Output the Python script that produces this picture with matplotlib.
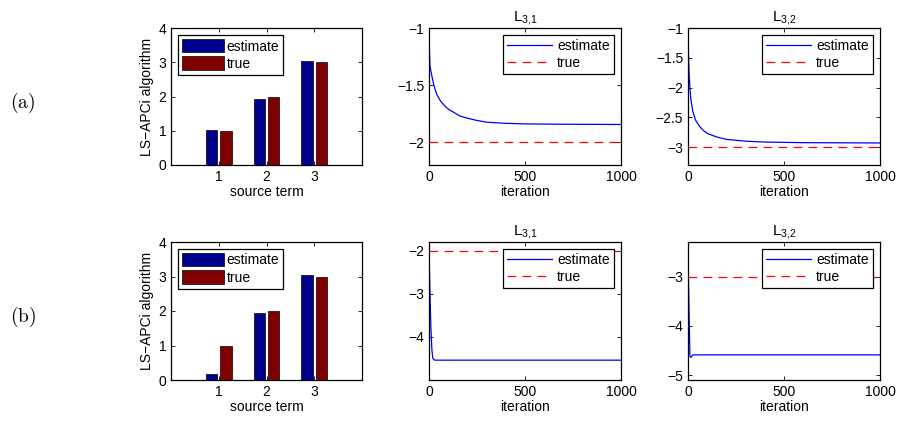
import numpy as np
import matplotlib
matplotlib.use("Agg")
import matplotlib.pyplot as plt

plt.rcParams['font.family'] = ['Liberation Sans', 'DejaVu Sans']
plt.rcParams['font.size'] = 10
plt.rcParams['mathtext.fontset'] = 'custom'
plt.rcParams['mathtext.rm'] = 'Liberation Sans'
plt.rcParams['mathtext.it'] = 'Liberation Sans:italic'

# bar data (source terms)
terms = [1, 2, 3]
est_a = [1.02, 1.93, 3.03]
true_a = [1.0, 2.0, 3.0]
est_b = [0.18, 1.93, 3.03]
true_b = [1.0, 2.0, 3.0]

# row (a) estimates vs iteration
it_a31 = [0, 5, 8, 15, 25, 40, 60, 80, 100, 130, 160, 200, 250, 300, 400, 500, 700, 1000]
val_a31 = [-1.10, -1.33, -1.36, -1.42, -1.50, -1.58, -1.64, -1.68, -1.71, -1.74, -1.77,
           -1.79, -1.81, -1.825, -1.835, -1.84, -1.843, -1.845]
true_a31 = -2.0

it_a32 = [0, 3, 6, 10, 15, 25, 40, 60, 80, 100, 150, 200, 300, 400, 600, 1000]
val_a32 = [-1.10, -1.5, -1.8, -2.0, -2.2, -2.4, -2.55, -2.65, -2.72, -2.77, -2.83,
           -2.87, -2.90, -2.915, -2.925, -2.93]
true_a32 = -3.0

# row (b)
it_b31 = [0, 5, 10, 15, 20, 30, 1000]
val_b31 = [-2.0, -3.0, -3.8, -4.3, -4.5, -4.54, -4.54]
true_b31 = -2.0

it_b32 = [0, 5, 10, 15, 25, 1000]
val_b32 = [-2.55, -3.6, -4.62, -4.64, -4.59, -4.59]
true_b32 = -3.0

blue_bar = '#00008f'
red_bar = '#800000'

fig = plt.figure(figsize=(8.98, 4.21), dpi=100)

W, H = 898.0, 421.0
def add_ax(x0, x1, y0, y1):
    return fig.add_axes([x0 / W, 1 - y1 / H, (x1 - x0) / W, (y1 - y0) / H])

def style(ax):
    ax.tick_params(direction='in', top=True, right=True, length=3, width=0.6, labelsize=10)
    for s in ax.spines.values():
        s.set_linewidth(0.9)

rows = [
    (28, 165, est_a, true_a, [(it_a31, val_a31, true_a31, (-2.2, -1), [-2, -1.5, -1], ['−2', '−1.5', '−1'], r'L$_{3{,}1}$'),
                              (it_a32, val_a32, true_a32, (-3.3, -1), [-3, -2.5, -2, -1.5, -1],
                               ['−3', '−2.5', '−2', '−1.5', '−1'], r'L$_{3{,}2}$')], '(a)'),
    (242, 380, est_b, true_b, [(it_b31, val_b31, true_b31, (-5, -1.8), [-4, -3, -2], ['−4', '−3', '−2'], r'L$_{3{,}1}$'),
                               (it_b32, val_b32, true_b32, (-5.1, -2.3), [-5, -4, -3], ['−5', '−4', '−3'], r'L$_{3{,}2}$')], '(b)'),
]

for top, bot, est, tru, lines, lab in rows:
    # bar chart
    ax = add_ax(171, 362, top, bot)
    x = np.array(terms)
    ax.bar(x - 0.15, est, width=0.24, color=blue_bar, edgecolor='black', linewidth=0.5, label='estimate')
    ax.bar(x + 0.15, tru, width=0.24, color=red_bar, edgecolor='black', linewidth=0.5, label='true')
    ax.set_xlim(0, 4)
    ax.set_ylim(0, 4)
    ax.set_xticks([1, 2, 3])
    ax.set_yticks([0, 1, 2, 3, 4])
    ax.set_xlabel('source term', labelpad=1)
    ax.set_ylabel('LS\u2212APCi algorithm', labelpad=3)
    style(ax)
    ax.legend(loc='upper left', fancybox=False, edgecolor='black', framealpha=1,
              handlelength=3.0, handleheight=1.1, borderpad=0.3, labelspacing=0.2,
              handletextpad=0.2, borderaxespad=0.5).get_frame().set_linewidth(0.9)

    # row label
    fig.text(23 / W, 1 - ((top + bot) / 2 + 6) / H, r'$\mathrm{%s}$' % lab, math_fontfamily='cm',
             fontsize=14, ha='center', va='center')

    for (it, val, tv, yl, yt, ytl, title), (x0, x1) in zip(lines, [(429, 621), (688, 880)]):
        ax = add_ax(x0, x1, top, bot)
        ax.plot(it, val, color='blue', lw=0.9, label='estimate')
        ax.axhline(tv, color='red', lw=0.9, ls=(0, (7, 5)), label='true')
        ax.set_xlim(0, 1000)
        ax.set_ylim(*yl)
        ax.set_xticks([0, 500, 1000])
        ax.set_yticks(yt)
        ax.set_yticklabels(ytl)
        ax.set_xlabel('iteration', labelpad=1)
        ax.set_title(title, fontsize=11, pad=5)
        style(ax)
        ax.legend(loc='upper right', fancybox=False, edgecolor='black', framealpha=1,
                  handlelength=3.2, borderpad=0.3, labelspacing=0.2,
                  handletextpad=0.4, borderaxespad=0.5).get_frame().set_linewidth(0.9)

fig.savefig('out.png', dpi=100)
